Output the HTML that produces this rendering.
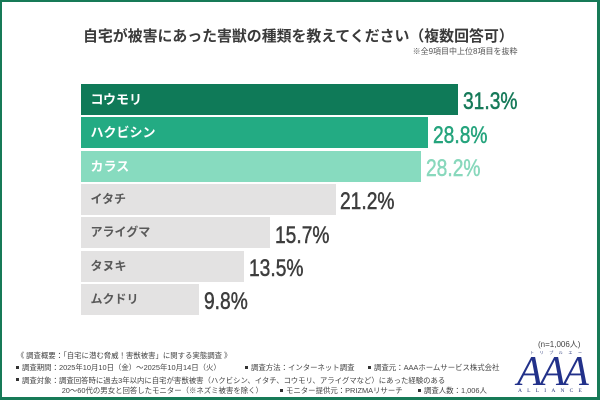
<!DOCTYPE html>
<html><head><meta charset="utf-8">
<style>
*{margin:0;padding:0;box-sizing:border-box}
html,body{width:600px;height:400px;overflow:hidden;background:#fff}
body{position:relative;font-family:"Liberation Sans","Noto Sans CJK JP",sans-serif}
.frame{position:absolute;left:0;top:0;width:600px;height:400px;border-style:solid;border-color:#177a57;border-width:2px 3px 3px 2px}
.a{position:absolute;white-space:nowrap}
.title{left:83px;top:27px;font-size:14.9px;line-height:20px;font-weight:700;color:#3a3a3a}
.sub{left:380px;width:137.5px;text-align:right;top:45.5px;font-size:8px;line-height:11px;color:#555}
.bar{position:absolute;left:81px;height:31px}
.bl{position:absolute;left:90.5px;height:31px;line-height:31px;font-weight:700;white-space:nowrap}
.c{font-size:13px;color:#fff}
.g{font-size:12px;color:#595959}
.v{position:absolute;font-size:24px;line-height:24px;white-space:nowrap;transform:scaleX(0.8);transform-origin:0 0;font-family:"Liberation Sans",sans-serif;-webkit-text-stroke:0.5px currentColor}
.f{position:absolute;white-space:nowrap;font-size:7.4px;line-height:10px;color:#444}
.b{display:inline-block;width:3px;height:3px;background:#333;vertical-align:middle;margin-right:3px;position:relative;top:-1px}
</style></head><body>
<div class="frame"></div>
<div class="a title">自宅が被害にあった害獣の種類を教えてください（複数回答可）</div>
<div class="a sub">※全9項目中上位8項目を抜粋</div>

<div class="bar" style="top:84px;width:377px;background:#0f7a58"></div>
<div class="bl c" style="top:84px">コウモリ</div>
<div class="v" style="left:463px;top:90.4px;color:#167a59">31.3%</div>

<div class="bar" style="top:117.3px;width:347px;background:#23ab83"></div>
<div class="bl c" style="top:117.3px">ハクビシン</div>
<div class="v" style="left:433.3px;top:123.7px;color:#25a47d">28.8%</div>

<div class="bar" style="top:150.7px;width:339.5px;background:#87dbbf"></div>
<div class="bl c" style="top:150.7px">カラス</div>
<div class="v" style="left:426px;top:157.1px;color:#88d8bc">28.2%</div>

<div class="bar" style="top:184px;width:255px;background:#e3e2e2"></div>
<div class="bl g" style="top:184px">イタチ</div>
<div class="v" style="left:340px;top:190.4px;color:#3d3d3d">21.2%</div>

<div class="bar" style="top:217.3px;width:189px;background:#e3e2e2"></div>
<div class="bl g" style="top:217.3px">アライグマ</div>
<div class="v" style="left:275px;top:223.7px;color:#3d3d3d">15.7%</div>

<div class="bar" style="top:250.7px;width:162.5px;background:#e3e2e2"></div>
<div class="bl g" style="top:250.7px">タヌキ</div>
<div class="v" style="left:249.3px;top:257.1px;color:#3d3d3d">13.5%</div>

<div class="bar" style="top:284px;width:118px;background:#e3e2e2"></div>
<div class="bl g" style="top:284px">ムクドリ</div>
<div class="v" style="left:204px;top:290.4px;color:#3d3d3d">9.8%</div>

<div class="f" style="left:16.7px;top:351px">《 調査概要：「自宅に潜む脅威！害獣被害」に関する実態調査 》</div>
<div class="f" style="left:16px;top:363px"><i class="b"></i>調査期間：2025年10月10日（金）～2025年10月14日（火）</div>
<div class="f" style="left:245px;top:363px"><i class="b"></i>調査方法：インターネット調査</div>
<div class="f" style="left:368px;top:363px"><i class="b"></i>調査元：AAAホームサービス株式会社</div>
<div class="f" style="left:16px;top:375.6px"><i class="b"></i>調査対象：調査回答時に過去3年以内に自宅が害獣被害（ハクビシン、イタチ、コウモリ、アライグマなど）にあった経験のある</div>
<div class="f" style="left:61.7px;top:386.3px">20～60代の男女と回答したモニター（※ネズミ被害を除く）</div>
<div class="f" style="left:280px;top:386.3px"><i class="b"></i>モニター提供元：PRIZMAリサーチ</div>
<div class="f" style="left:418px;top:386.3px"><i class="b"></i>調査人数：1,006人</div>

<div class="f" style="left:538px;top:339.5px;font-size:8px;color:#444">(n=1,006人)</div>

<div class="a" style="left:530px;top:350.5px;font-size:4px;line-height:5px;letter-spacing:5.6px;color:#2b3a7a;font-family:'Noto Sans CJK JP',sans-serif">トリプルエー</div>
<div class="a" style="left:517px;top:350.8px;font-size:42px;line-height:42px;font-style:italic;letter-spacing:-2.6px;color:#22318a;font-family:'Liberation Serif',serif">AAA</div>
<div class="a" style="left:518px;top:388px;font-size:5.5px;line-height:6px;letter-spacing:5.2px;color:#2b3a7a;font-family:'Liberation Serif',serif">ALLIANCE</div>
</body></html>
